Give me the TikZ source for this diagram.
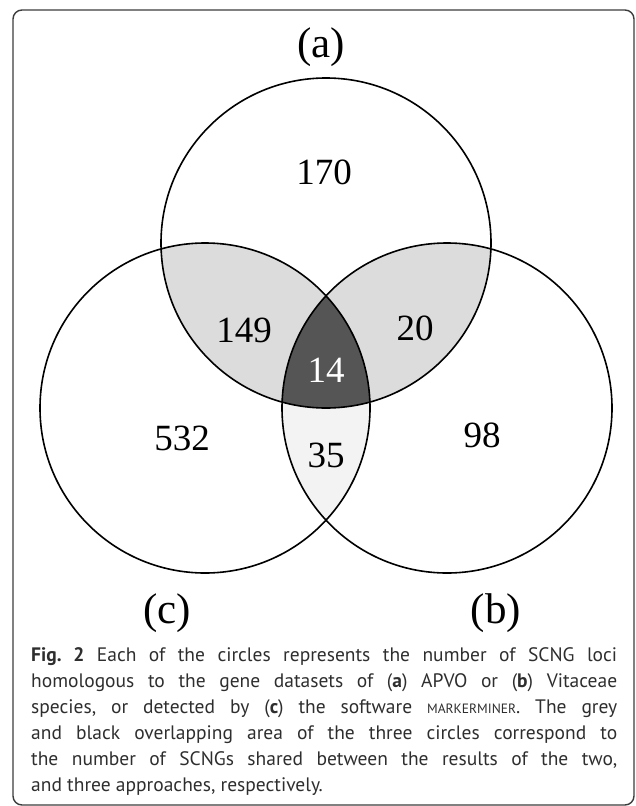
\documentclass[tikz,border=0pt]{standalone}
\usepackage{fontspec}
\setmainfont{Liberation Serif}
\newfontfamily\capfont{PT Sans}
\usetikzlibrary{positioning}

\definecolor{pairgrey}{HTML}{DCDCDC}
\definecolor{triplegrey}{HTML}{555555}
\definecolor{palegrey}{HTML}{F3F3F3}
\definecolor{framegrey}{HTML}{3C3C3C}
\definecolor{textgrey}{HTML}{2E2E2E}

\begin{document}
\begin{tikzpicture}[x=1pt,y=-1pt,
  count/.style={font=\fontsize{37}{37}\selectfont},
  setlabel/.style={font=\fontsize{43}{43}\selectfont},
  ring/.style={line width=1.6pt}]
\useasboundingbox (0,0) rectangle (636,806);
\draw[framegrey, line width=1.4pt, rounded corners=9pt] (13,10) rectangle (634,805);

\def\rad{165pt}
\coordinate (ca) at (326,243);
\coordinate (cb) at (447,408);
\coordinate (cc) at (205,408);

% shaded overlaps
\begin{scope}
  \clip (ca) circle (\rad);
  \fill[pairgrey] (cb) circle (\rad);
  \fill[pairgrey] (cc) circle (\rad);
\end{scope}
\begin{scope}
  \clip (cb) circle (\rad);
  \fill[palegrey] (cc) circle (\rad);
  \clip (ca) circle (\rad);
  \fill[triplegrey] (cc) circle (\rad);
\end{scope}
\draw[ring] (ca) circle (\rad) (cb) circle (\rad) (cc) circle (\rad);

\node[setlabel] (labA) at (321,47) {(a)};
\node[setlabel] (labC) at (167,613) {(c)};
\node[setlabel] (labB) at (496,613) {(b)};

\node[count] (nA) at (324,172) {170};
\node[count] (nAC) at (244,330) {149};
\node[count] (nAB) at (415,328) {20};
\node[count,text=white] (nABC) at (326,370) {14};
\node[count] (nC) at (182,438) {532};
\node[count] (nB) at (482,435) {98};
\node[count] (nBC) at (326,455) {35};

\node[anchor=north west, inner sep=0pt, text width=586pt, align=justify,
  text=textgrey, font=\capfont\fontsize{19.5}{26}\selectfont] (caption) at (31,647)
  {\frenchspacing\textbf{Fig. 2} Each of the circles represents the number of SCNG loci\linebreak
   homologous to the gene datasets of (\textbf{a}) APVO or (\textbf{b}) Vitaceae\linebreak
   species, or detected by (\textbf{c}) the software {\fontsize{13.5}{13.5}\selectfont MARKERMINER}. The grey\linebreak
   and black overlapping area of the three circles correspond to\linebreak
   the number of SCNGs shared between the results of the two,\linebreak
   and three approaches, respectively.};
\end{tikzpicture}
\end{document}
